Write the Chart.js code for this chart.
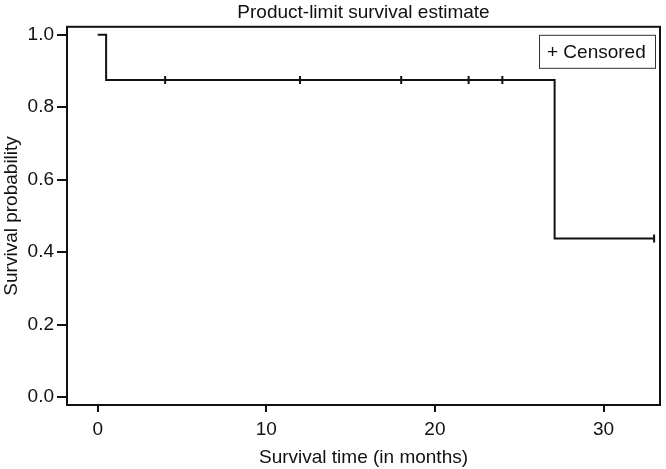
<!DOCTYPE html>
<html>
<head>
<meta charset="utf-8">
<script src="https://cdn.jsdelivr.net/npm/chart.js@4/dist/chart.umd.min.js"></script>
<style>
  html, body { margin: 0; padding: 0; background: #fff; }
  #wrap { width: 666px; height: 469px; }
</style>
</head>
<body>
<div id="wrap"><canvas id="km"></canvas></div>
<script>
// Kaplan-Meier steps (time in months, survival probability)
const stepTimes = [0, 0.5, 0.5, 27.1, 27.1, 33];
const stepSurvival = [1.0, 1.0, 0.875, 0.875, 0.4375, 0.4375];

// censored observations
const censorTimes = [4, 12, 18, 22, 24, 33];
const censorSurvival = [0.875, 0.875, 0.875, 0.875, 0.875, 0.4375];

const xTicks = [0, 10, 20, 30];
const yTicks = [0, 0.2, 0.4, 0.6, 0.8, 1.0];

const font = "'Liberation Sans', Arial, Helvetica, sans-serif";

// box round the plot, plus title centred over the plot area
const frame = {
  id: "frame",
  afterLayout(chart) {
    const t = chart.titleBlock;
    if (t) {
      t.left = chart.chartArea.left;
      t.right = chart.chartArea.right;
    }
  },
  afterDatasetsDraw(chart) {
    const a = chart.chartArea;
    const ctx = chart.ctx;
    ctx.save();
    ctx.strokeStyle = "#111";
    ctx.lineWidth = 2;
    ctx.strokeRect(a.left, a.top, a.right - a.left, a.bottom - a.top);
    ctx.restore();
  }
};

const legendBox = {
  id: "legendBox",
  afterDraw(chart) {
    const a = chart.chartArea;
    const ctx = chart.ctx;
    const w = 116, h = 33;
    const x = a.right - 5 - w, y = a.top + 8;
    ctx.save();
    ctx.fillStyle = "#fff";
    ctx.fillRect(x, y, w, h);
    ctx.strokeStyle = "#333";
    ctx.lineWidth = 1;
    ctx.strokeRect(x + 0.5, y + 0.5, w, h);
    ctx.fillStyle = "#111";
    ctx.font = "19px " + font;
    ctx.textBaseline = "middle";
    ctx.fillText("+ Censored", x + 8, y + h / 2 + 1);
    ctx.restore();
  }
};

new Chart(document.getElementById("km"), {
  type: "scatter",
  data: {
    datasets: [
      {
        label: "Survival",
        data: stepTimes.map((t, i) => ({ x: t, y: stepSurvival[i] })),
        showLine: true,
        borderColor: "#111",
        borderWidth: 2,
        pointRadius: 0,
        fill: false
      },
      {
        label: "Censored",
        data: censorTimes.map((t, i) => ({ x: t, y: censorSurvival[i] })),
        showLine: false,
        pointStyle: "line",
        rotation: 90,
        radius: 4,
        borderColor: "#111",
        borderWidth: 2
      }
    ]
  },
  options: {
    responsive: true,
    maintainAspectRatio: false,
    animation: false,
    layout: { padding: { left: 0, right: 3, top: 0, bottom: 0 } },
    plugins: {
      legend: { display: false },
      tooltip: { enabled: false },
      title: {
        display: true,
        text: "Product-limit survival estimate",
        color: "#111",
        font: { family: font, size: 19, weight: "normal" },
        padding: { top: 1, bottom: 3 }
      }
    },
    scales: {
      x: {
        type: "linear",
        min: -1.82,
        max: 33.35,
        afterBuildTicks: (s) => { s.ticks = xTicks.map((v) => ({ value: v })); },
        ticks: { color: "#111", font: { family: font, size: 19 }, padding: 6, maxRotation: 0 },
        grid: { drawOnChartArea: false, color: "#111", tickLength: 7, lineWidth: 2 },
        border: { display: false },
        title: {
          display: true,
          text: "Survival time (in months)",
          color: "#111",
          font: { family: font, size: 19 },
          padding: { top: 4, bottom: 0 }
        },
        afterFit: (s) => { s.height = 64; }
      },
      y: {
        type: "linear",
        min: -0.022,
        max: 1.022,
        afterBuildTicks: (s) => { s.ticks = yTicks.map((v) => ({ value: v })); },
        ticks: {
          color: "#111",
          font: { family: font, size: 19 },
          padding: 3,
          callback: (v) => v.toFixed(1)
        },
        grid: { drawOnChartArea: false, color: "#111", tickLength: 10, lineWidth: 2 },
        border: { display: false },
        title: {
          display: true,
          text: "Survival probability",
          color: "#111",
          font: { family: font, size: 19 },
          padding: { top: 0, bottom: 2 }
        },
        afterFit: (s) => { s.width = 67; }
      }
    }
  },
  plugins: [frame, legendBox]
});
</script>
</body>
</html>
